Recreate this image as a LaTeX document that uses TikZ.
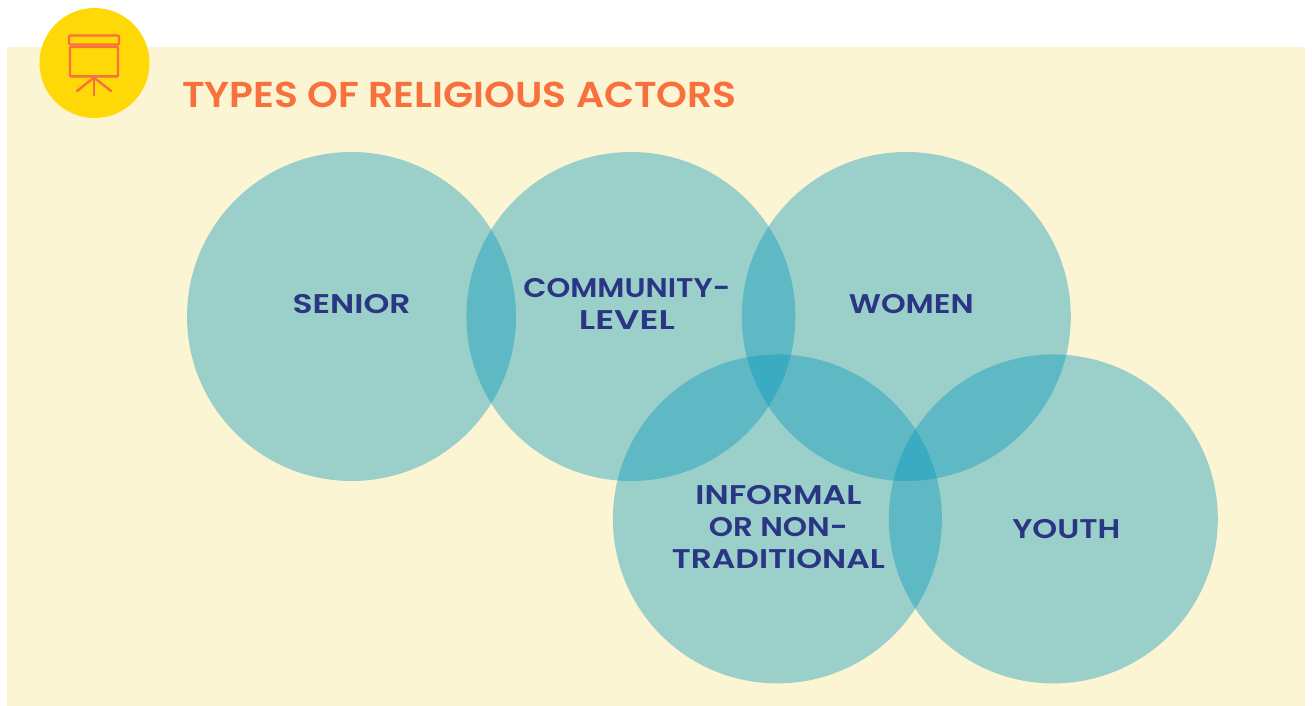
\documentclass[tikz,border=0pt]{standalone}
\usepackage{fontspec}
\usepackage{graphicx}
\usepackage{tikz}
\usetikzlibrary{positioning}
\setmainfont{Poppins}
\newfontfamily\titlefont[FakeStretch=1.09]{Poppins SemiBold}
\newfontfamily\actorfont[FakeStretch=1.2]{Poppins SemiBold}
\newcommand{\fitline}[2]{\resizebox{#1}{\height}{#2}}
\definecolor{panelcream}{RGB}{252,245,211}
\definecolor{actorblue}{RGB}{0,150,188}
\definecolor{badgeyellow}{RGB}{255,217,7}
\definecolor{titleorange}{RGB}{248,112,60}
\definecolor{labelnavy}{RGB}{42,53,131}

\begin{document}
\begin{tikzpicture}[
			x=1pt, y=-1pt,
			actor/.style={circle, fill=actorblue, fill opacity=0.385, minimum size=329pt, inner sep=0pt},
			actorlabel/.style={text=labelnavy, font=\actorfont\fontsize{27}{32}\selectfont, align=center, inner sep=0pt},
			screen/.style={draw=titleorange, line width=2.4pt, rounded corners=1pt, inner sep=0pt},
			leg/.style={draw=titleorange, line width=2.4pt, line cap=round}
			]
			\useasboundingbox (0,0) rectangle (1312,706);
			% --- Tlo i naglowek ---
			\node[fill=panelcream, minimum width=1298pt, minimum height=659pt, inner sep=0pt] (panel) at (656,376.5) {};
			\node[circle, fill=badgeyellow, minimum size=110pt, inner sep=0pt] (badge) at (94.5,63) {};
			\node[anchor=west, text=titleorange, font=\titlefont\fontsize{36}{40}\selectfont, inner sep=0pt] (title) at (182,95) {TYPES OF RELIGIOUS ACTORS};
			
			% --- Ikona ---
			\node[screen, minimum width=50pt, minimum height=9pt] (screentop) at (94,40) {};
			\node[screen, minimum width=48pt, minimum height=29.5pt, below=0pt of screentop] (screenbody) {};
			\coordinate (legleft) at (77,91);
			\coordinate (legmid) at (94,95);
			\coordinate (legright) at (111,91);
			\draw[leg] (screenbody.south) -- (legleft);
			\draw[leg] (screenbody.south) -- (legmid);
			\draw[leg] (screenbody.south) -- (legright);
			
			% --- Kola ---
			\node[actor] (senior) at (351.5,316.5) {};
			\node[actor, right=-50pt of senior] (community) {};
			\node[actor, right=-54pt of community] (women) {};
			\node[actor, below=-127pt of community, xshift=146.5pt] (informal) {};
			\node[actor, right=-53.5pt of informal] (youth) {};
			
			% --- Podpisy ---
			\node[actorlabel, yshift=12pt] at (senior) (seniorlabel) {\fitline{118pt}{SENIOR}};
			\node[actorlabel, xshift=-4pt, yshift=12.5pt] at (community) (communitylabel) {\fitline{207pt}{COMMUNITY-}\\\fitline{96pt}{LEVEL}};
			\node[actorlabel, xshift=5pt, yshift=12pt] at (women) (womenlabel) {\fitline{125pt}{WOMEN}};
			\node[actorlabel, xshift=1pt, yshift=-8pt] at (informal) (informallabel) {\fitline{166pt}{INFORMAL}\\\fitline{139pt}{OR NON-}\\\fitline{213pt}{TRADITIONAL}};
			\node[actorlabel, xshift=13pt, yshift=-10pt] at (youth) (youthlabel) {\fitline{108pt}{YOUTH}};
			
		\end{tikzpicture}
\end{document}
